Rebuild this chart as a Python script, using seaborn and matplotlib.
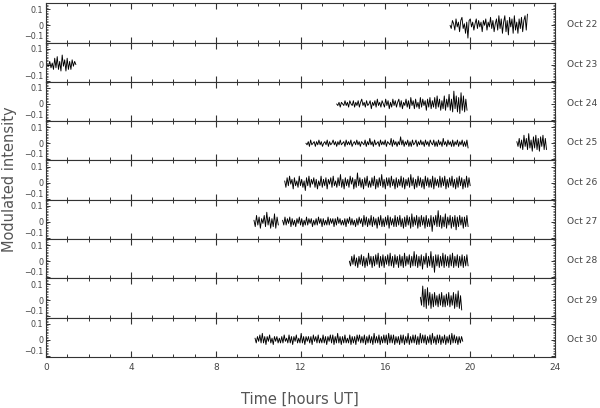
import numpy as np
import pandas as pd
import matplotlib
matplotlib.use('Agg')
import matplotlib.pyplot as plt
import seaborn as sns
from matplotlib.ticker import MultipleLocator, FixedLocator, FixedFormatter

# day labels (top to bottom)
days = ['Oct 22', 'Oct 23', 'Oct 24', 'Oct 25', 'Oct 26', 'Oct 27', 'Oct 28', 'Oct 29', 'Oct 30']

windows = {
    'Oct 22': [(19.05, 22.7)],
    'Oct 23': [(0.05, 1.4)],
    'Oct 24': [(13.7, 19.85)],
    'Oct 25': [(12.25, 19.9), (22.2, 23.6)],
    'Oct 26': [(11.25, 20.0)],
    'Oct 27': [(9.8, 10.95), (11.15, 19.9)],
    'Oct 28': [(14.3, 19.9)],
    'Oct 29': [(17.65, 19.6)],
    'Oct 30': [(9.85, 19.65)],
}

# modulated intensity in units of 0.01
sig22 = [0, -2, 3, 1, -3, 4, -1, 2, -4, 3, 5, -2, 1, -5, 2, -8, 3, 4, -1, 2, -3, 1, 4, -2, 3, -1, 2, -4, 3, 0, 4, -3,
         2, -1, 5, -2, 3, -4, 1, 4, -3, 6, -2, 4, -5, 2, 6, -4, 3, -6, 5, -1, 4, -5, 6, -3, 2, -5, 4, -2, 5, -4, 3,
         6, -3, 7]
sig23 = [0, -1, 2, -2, 1, -3, 4, -2, 5, -3, 2, -4, 6, -1, 3, -4, 4, -3, 2, -3, 3, -1, 2, 0]
sig24 = [0, -1, 1, -2, 1, 0, -1, 2, -1, 1, -2, 2, 0, -1, 2, -2, 1, -1, 2, -2, 1, 3, -1, 1, -2, 2, -1, 0, 2, -3, 1,
         -1, 2, -2, 3, -1, 1, -2, 2, 0, -2, 3, -1, 2, -3, 1, -2, 3, -1, 2, -2, 1, 3, -2, 2, -3, 1, -1, 3, -2, 2, -3,
         4, -1, 2, -3, 3, -2, 1, -3, 4, -2, 3, -1, 2, -4, 3, -2, 4, -3, 2, -2, 4, -3, 5, -2, 3, -4, 2, -3, 5, -4, 3,
         -2, 6, -4, 3, -5, 8, -3, 5, -5, 4, -6, 7, -4, 5, -5, 3, -4]
sig25a = [0, -1, 1, -2, 2, -1, 0, 1, -2, 1, -1, 2, -1, 1, -2, 0, 1, -1, 2, -2, 1, -1, 0, 2, -1, 1, -2, 1, -1, 2, -1,
          0, 1, -2, 2, -1, 1, -1, 2, -2, 0, 1, -1, 2, -1, 1, -2, 1, 0, -1, 2, -2, 1, -1, 3, -1, 1, -2, 2, -1, 0, 1,
          -2, 2, -1, 1, -1, 2, -2, 1, 0, -1, 3, -2, 2, -1, 1, -2, 1, -1, 4, -1, 2, -2, 1, -1, 2, -2, 1, -2, 2, -1, 0,
          2, -2, 1, -1, 2, -1, 1, -2, 2, -1, 1, -2, 2, 0, -1, 2, -2, 1, -2, 2, -1, 1, -2, 3, -1, 1, -2, 2, -1, 1, -2,
          2, -2, 1, -1, 2, -2, 1, -1, 2, -2, 1, -2, 2, -3]
sig25b = [1, -2, 3, -3, 2, -4, 5, -2, 3, -4, 6, -3, 2, -5, 4, -3, 5, -4, 3, -5, 4, -2, 5, -4, 3, -4]
sig26 = [1, -3, 3, -2, 4, -1, 2, -4, 3, -2, 1, -3, 4, -2, 2, -3, 1, -5, 3, -2, 4, -3, 2, -1, 3, -3, 2, -4, 1, -2, 4,
         -3, 2, -2, 3, -4, 2, -1, 3, -3, 4, -2, 1, -3, 3, -2, 5, -3, 2, -4, 3, -2, 2, -3, 4, -1, 3, -4, 2, -3, 6, -2,
         3, -3, 2, -4, 3, -2, 4, -3, 1, -3, 3, -2, 4, -4, 2, -3, 3, -2, 5, -3, 2, -4, 3, -2, 3, -3, 4, -2, 2, -4, 3,
         -3, 2, -2, 4, -3, 3, -4, 2, -2, 3, -3, 5, -2, 3, -4, 2, -3, 4, -2, 3, -3, 2, -4, 4, -2, 3, -3, 2, -3, 4, -4,
         3, -2, 2, -3, 4, -3, 3, -2, 4, -4, 2, -3, 3, -2, 4, -3, 2, -4, 3, -3, 4, -2, 3, -4, 2, -3, 4, -3, 3, -2]
sig27a = [1, -3, 4, -2, 3, -4, 2, -1, 4, -3, 6, -2, 3, -4, 2, -3, 5, -4, 3, -2]
sig27b = [1, -2, 3, -2, 2, -1, 3, -3, 2, -2, 1, -3, 2, -1, 3, -2, 2, -3, 1, -2, 3, -2, 2, -1, 2, -3, 1, -2, 2, -2, 3,
          -1, 2, -3, 2, -2, 1, -2, 3, -2, 2, -1, 2, -3, 2, -2, 3, -1, 2, -2, 1, -2, 2, -3, 2, -1, 3, -2, 2, -2, 1, -3,
          2, -2, 3, -1, 2, -3, 4, -2, 3, -3, 2, -2, 4, -3, 3, -2, 2, -4, 3, -2, 4, -3, 2, -3, 3, -2, 4, -4, 3, -2, 2,
          -3, 4, -3, 3, -2, 4, -3, 2, -4, 3, -3, 4, -2, 3, -4, 5, -3, 3, -2, 4, -4, 3, -3, 4, -2, 3, -4, 4, -3, 2, -3,
          4, -6, 3, -2, 4, -3, 7, -3, 4, -4, 3, -3, 5, -4, 3, -2, 4, -4, 3, -3, 4, -5, 3, -3, 4, -2, 3, -4, 3, -3, 4,
          -3]
sig28 = [0, -3, 3, -2, 4, -3, 2, -4, 3, -2, 4, -3, 3, -4, 2, -3, 5, -2, 3, -4, 3, -3, 4, -2, 5, -4, 3, -3, 4, -4, 3,
         -2, 4, -3, 5, -3, 3, -4, 4, -2, 3, -4, 4, -3, 3, -4, 5, -3, 3, -2, 4, -4, 3, -3, 6, -3, 4, -4, 3, -3, 4, -5,
         3, -2, 5, -4, 3, -3, 6, -4, 3, -7, 4, -3, 4, -4, 3, -3, 5, -4, 4, -3, 3, -4, 4, -3, 5, -4, 3, -3, 4, -4, 3,
         -3, 4, -4, 3, -3, 4, -3]
sig29 = [2, -3, 9, -4, 7, -5, 8, -3, 5, -5, 4, -4, 5, -3, 3, -4, 4, -3, 5, -4, 3, -4, 4, -3, 5, -4, 3, -3, 5, -5, 4,
         -4, 6, -5, 3, -6]
sig30 = [1, -2, 2, -1, 3, -2, 4, -2, 2, -3, 2, -1, 3, -2, 1, -3, 2, -1, 2, -2, 1, -2, 2, -2, 3, -1, 1, -2, 3, -2, 2,
         -3, 2, -1, 3, -2, 1, -2, 4, -2, 2, -3, 2, -1, 2, -2, 2, -3, 3, -1, 2, -2, 3, -2, 1, -2, 3, -2, 2, -3, 2, -1,
         3, -2, 3, -3, 2, -2, 4, -2, 2, -3, 2, -2, 3, -2, 1, -2, 3, -3, 2, -2, 2, -3, 3, -1, 3, -2, 2, -2, 3, -3, 2,
         -2, 3, -2, 2, -3, 4, -2, 2, -2, 3, -3, 2, -2, 3, -2, 3, -3, 4, -2, 3, -2, 3, -3, 2, -2, 2, -3, 3, -2, 3, -3,
         2, -2, 4, -3, 2, -2, 3, -2, 3, -3, 2, -3, 4, -2, 3, -2, 3, -3, 2, -2, 3, -3, 4, -2, 2, -3, 3, -2, 3, -3, 2,
         -2, 3, -3, 2, -2, 3, -3, 4, -2, 3, -2, 2, -3, 2, -2, 2, -1]

signals = {
    'Oct 22': [sig22], 'Oct 23': [sig23], 'Oct 24': [sig24], 'Oct 25': [sig25a, sig25b],
    'Oct 26': [sig26], 'Oct 27': [sig27a, sig27b], 'Oct 28': [sig28], 'Oct 29': [sig29], 'Oct 30': [sig30],
}

ytick_vals = [-0.1, 0, 0.1]
ytick_labels = ['\u22120.1', '0', '0.1']
xtick_vals = [0, 4, 8, 12, 16, 20, 24]

sns.set_style('ticks')
plt.rcParams['font.family'] = ['Liberation Sans Narrow', 'DejaVu Sans']

fig, axes = plt.subplots(len(days), 1, figsize=(6.0, 4.08), dpi=100, sharex=True)
fig.subplots_adjust(left=0.077, right=0.925, top=0.992, bottom=0.125, hspace=0)

txt_col = '#444444'
for ax, day in zip(axes, days):
    for (t0, t1), sig in zip(windows[day], signals[day]):
        df = pd.DataFrame({'t': np.linspace(t0, t1, len(sig)), 'v': np.array(sig) / 100.0})
        sns.lineplot(data=df, x='t', y='v', ax=ax, color='black', lw=0.65)
    ax.set_xlim(0, 24)
    ax.set_ylim(-0.108, 0.138)
    ax.set_xlabel('')
    ax.set_ylabel('')
    ax.xaxis.set_major_locator(FixedLocator(xtick_vals))
    ax.xaxis.set_minor_locator(MultipleLocator(1))
    ax.yaxis.set_major_locator(FixedLocator(ytick_vals))
    ax.yaxis.set_major_formatter(FixedFormatter(ytick_labels))
    ax.yaxis.set_minor_locator(MultipleLocator(0.01))
    ax.tick_params(axis='both', which='both', direction='in', top=True, right=True,
                   colors='#333333', labelcolor=txt_col, labelsize=5.8, pad=2)
    ax.tick_params(axis='x', which='major', length=4.5, width=0.8)
    ax.tick_params(axis='x', which='minor', length=2.5, width=0.7)
    ax.tick_params(axis='y', which='major', length=3, width=0.7)
    ax.tick_params(axis='y', which='minor', length=1.5, width=0.5)
    # keep the -0.1 label just above the panel edge so it clears the next 0.1
    ax.yaxis.get_major_ticks()[0].label1.set_verticalalignment('bottom')
    for sp in ax.spines.values():
        sp.set_color('#333333')
        sp.set_linewidth(0.8)
    ax.text(1.024, 0.45, day, transform=ax.transAxes, ha='left', va='center',
            fontsize=6.6, color=txt_col)

axes[-1].tick_params(axis='x', labelbottom=True, labelsize=6.5, pad=4)

fig.text(0.5, 0.004, 'Time [hours UT]', ha='center', va='bottom', fontsize=10.5,
         color='#555555', family='DejaVu Sans')
fig.text(0.016, 0.56, 'Modulated intensity', ha='center', va='center', rotation=90,
         fontsize=10.5, color='#555555', family='DejaVu Sans')

fig.savefig('out.png', dpi=100)
